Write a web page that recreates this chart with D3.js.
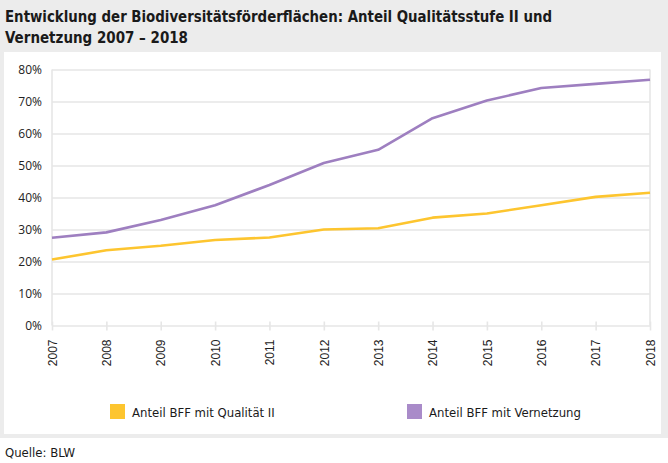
<!DOCTYPE html>
<html>
<head>
<meta charset="utf-8">
<script src="https://cdn.jsdelivr.net/npm/d3@7"></script>
<style>
  html, body { margin: 0; padding: 0; background: #fff; }
  svg { display: block; }
  .cond { font-family: "Liberation Sans Narrow", "DejaVu Sans Condensed", "Roboto", sans-serif; }
</style>
</head>
<body>
<div id="chart"></div>
<script>
// Daten
const years = [2007, 2008, 2009, 2010, 2011, 2012, 2013, 2014, 2015, 2016, 2017, 2018];
const anteilQualitaet = [20.6, 23.5, 24.9, 26.7, 27.5, 30.0, 30.4, 33.7, 35.0, 37.6, 40.2, 41.5];
const anteilVernetzung = [27.4, 29.1, 33.0, 37.6, 43.9, 50.8, 54.9, 64.8, 70.3, 74.2, 75.5, 76.8];
const yTicks = [0, 10, 20, 30, 40, 50, 60, 70, 80];
const seriesNames = ['Anteil BFF mit Qualität II', 'Anteil BFF mit Vernetzung'];
const titleLines = ['Entwicklung der Biodiversitätsförderflächen: Anteil Qualitätsstufe II und', 'Vernetzung 2007 – 2018'];
const sourceText = 'Quelle: BLW';

const W = 668, H = 463;
const plot = { left: 52, right: 650, top: 69.5, bottom: 325.5 };
const gridColor = '#e6e6e6';
const colors = { qual: '#fdc52f', vern: '#9e7fc0', vernLegend: '#a98bc9' };

const svg = d3.select('#chart').append('svg')
  .attr('width', W)
  .attr('height', H);

// Hintergrund / Rahmen
svg.append('rect').attr('x', 0).attr('y', 0).attr('width', W).attr('height', 438).attr('fill', '#ececec');
svg.append('rect').attr('x', 4).attr('y', 52).attr('width', 657).attr('height', 382).attr('fill', '#fff');

// Titel
const titleWidths = [547, 183];
svg.selectAll('.title')
  .data(titleLines)
  .enter().append('text')
  .attr('class', 'title cond')
  .attr('x', 5)
  .attr('y', (d, i) => 21.5 + i * 21.5)
  .attr('font-size', '16px')
  .attr('font-weight', 'bold')
  .attr('fill', '#1a1a1a')
  .attr('textLength', (d, i) => titleWidths[i])
  .attr('lengthAdjust', 'spacingAndGlyphs')
  .text(d => d);

const x = d3.scaleLinear().domain([2007, 2018]).range([plot.left, plot.right]);
const y = d3.scaleLinear().domain([0, 80]).range([plot.bottom, plot.top]);

// Gitterlinien (y)
const yAxis = svg.append('g')
  .attr('transform', `translate(${plot.left},0)`)
  .call(d3.axisLeft(y)
    .tickValues(yTicks)
    .tickSize(-(plot.right - plot.left))
    .tickPadding(10)
    .tickFormat(d => d + '%'));
yAxis.select('.domain').remove();
yAxis.selectAll('.tick line').attr('stroke', gridColor).attr('stroke-width', 1.6);
yAxis.selectAll('.tick text')
  .attr('font-family', '"Open Sans", "Noto Sans", sans-serif')
  .attr('font-size', '12px')
  .attr('fill', '#222');

// vertikale Randlinien
[plot.left, plot.right].forEach(px => {
  svg.append('line')
    .attr('x1', px).attr('x2', px)
    .attr('y1', plot.top).attr('y2', plot.bottom)
    .attr('stroke', gridColor).attr('stroke-width', 1.6);
});

// x-Achse
const xAxis = svg.append('g')
  .attr('transform', `translate(0,${plot.bottom})`)
  .call(d3.axisBottom(x)
    .tickValues(years)
    .tickSizeInner(5)
    .tickSizeOuter(0)
    .tickFormat(d3.format('d')));
xAxis.select('.domain').remove();
xAxis.selectAll('.tick line')
  .attr('y1', -4)
  .attr('stroke', gridColor).attr('stroke-width', 1.6);
xAxis.selectAll('.tick text')
  .attr('font-family', '"Liberation Sans", Arial, sans-serif')
  .attr('font-size', '12px')
  .attr('fill', '#222')
  .attr('text-anchor', 'end')
  .attr('transform', 'rotate(-90)')
  .attr('x', -14)
  .attr('y', 0)
  .attr('dy', '0.35em');

// Linien
const line = d3.line()
  .x((d, i) => x(years[i]))
  .y(d => y(d));

svg.append('path')
  .datum(anteilVernetzung)
  .attr('fill', 'none')
  .attr('stroke', colors.vern)
  .attr('stroke-width', 2.6)
  .attr('stroke-linejoin', 'round')
  .attr('d', line);

svg.append('path')
  .datum(anteilQualitaet)
  .attr('fill', 'none')
  .attr('stroke', colors.qual)
  .attr('stroke-width', 2.6)
  .attr('stroke-linejoin', 'round')
  .attr('d', line);

// Legende
const legendItems = [
  { name: seriesNames[0], color: colors.qual, x: 110 },
  { name: seriesNames[1], color: colors.vernLegend, x: 407 }
];
const legend = svg.selectAll('.legend')
  .data(legendItems)
  .enter().append('g')
  .attr('class', 'legend')
  .attr('transform', d => `translate(${d.x},404)`);
legend.append('rect')
  .attr('width', 15).attr('height', 15)
  .attr('fill', d => d.color);
legend.append('text')
  .attr('class', 'cond')
  .attr('x', 22)
  .attr('y', 12.5)
  .attr('font-size', '13px')
  .attr('fill', '#1a1a1a')
  .text(d => d.name);

// Quelle
svg.append('text')
  .attr('class', 'cond')
  .attr('x', 5)
  .attr('y', 457)
  .attr('font-size', '13px')
  .attr('fill', '#1a1a1a')
  .text(sourceText);
</script>
</body>
</html>
